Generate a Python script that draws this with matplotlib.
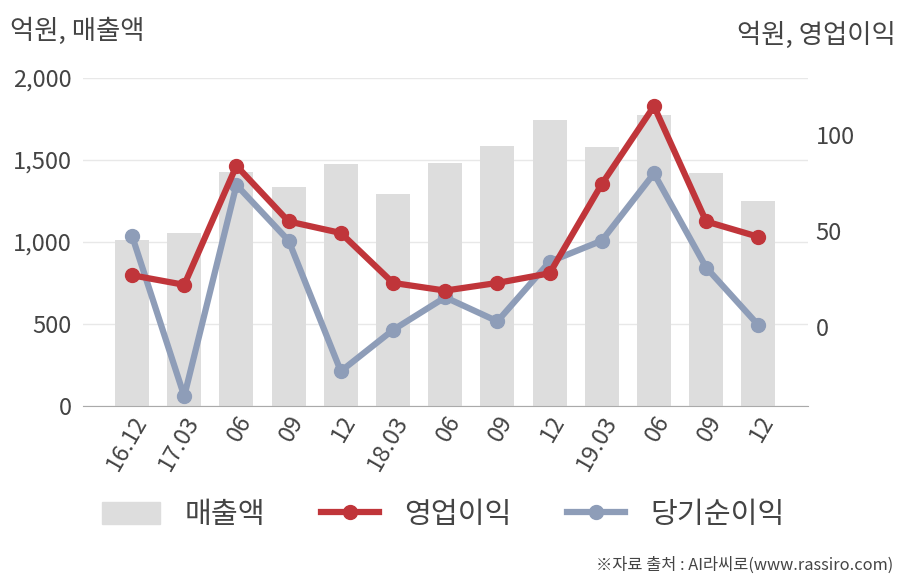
import numpy as np
import matplotlib
matplotlib.use("Agg")
import matplotlib.pyplot as plt
from matplotlib.lines import Line2D
from matplotlib.patches import Patch

plt.rcParams['font.family'] = ['Noto Sans CJK KR', 'DejaVu Sans']

quarters = ['16.12', '17.03', '06', '09', '12', '18.03', '06', '09', '12',
            '19.03', '06', '09', '12']
sales = [1015, 1055, 1427, 1335, 1476, 1293, 1482, 1585, 1744, 1579, 1774, 1421, 1250]
op_profit = [27, 22, 84, 55, 49, 23, 19, 23, 28, 74.5, 115, 55, 47]
net_income = [47.5, -36, 74, 45, -23, -1.5, 15.5, 3, 34, 45, 80, 31, 1]

red = '#C0353A'
blue = '#8E9DB8'
bar_c = '#DDDDDD'
txt = '#444444'

fig = plt.figure(figsize=(9.08, 5.8), dpi=100)
ax = fig.add_axes([0.0914, 0.30, 0.799, 0.5655])
x = np.arange(len(quarters))

ax.bar(x, sales, width=0.65, color=bar_c, zorder=2)
ax.set_ylim(0, 2000)
ax.set_xlim(-0.94, 12.96)
ax.set_yticks([0, 500, 1000, 1500, 2000])
ax.set_yticklabels(['0', '500', '1,000', '1,500', '2,000'])
ax.grid(axis='y', color='#E8E8E8', linewidth=1, zorder=0)
ax.set_axisbelow(True)
for s in ['top', 'right', 'left']:
    ax.spines[s].set_visible(False)
ax.spines['bottom'].set_color('#AAAAAA')
ax.tick_params(axis='y', length=0, labelsize=17, colors=txt, pad=8)
ax.tick_params(axis='x', length=0, labelsize=17, colors=txt, pad=4)
ax.set_xticks(x)
ax.set_xticklabels(quarters, rotation=60, ha='right', rotation_mode='anchor')

ax2 = ax.twinx()
ax2.set_ylim(-41.1, 129.7)
ax2.set_yticks([0, 50, 100])
for s in ['top', 'right', 'left', 'bottom']:
    ax2.spines[s].set_visible(False)
ax2.tick_params(axis='y', length=0, labelsize=17, colors=txt, pad=5)
ax2.plot(x, net_income, color=blue, linewidth=4.5, marker='o', markersize=10, zorder=3)
ax2.plot(x, op_profit, color=red, linewidth=4.5, marker='o', markersize=10, zorder=4)

fig.text(0.011, 0.946, '억원, 매출액', fontsize=19, color=txt, va='center')
fig.text(0.986, 0.940, '억원, 영업이익', fontsize=19, color=txt, va='center', ha='right')

handles = [Patch(color=bar_c),
           Line2D([], [], color=red, linewidth=4.5, marker='o', markersize=10),
           Line2D([], [], color=blue, linewidth=4.5, marker='o', markersize=10)]
fig.legend(handles, ['매출액', '영업이익', '당기순이익'], loc='center',
           bbox_to_anchor=(0.488, 0.112), ncol=3, frameon=False, fontsize=21,
           handlelength=2.0, handleheight=0.8, columnspacing=1.9, handletextpad=0.85,
           labelcolor=txt)

fig.text(0.984, 0.025, '※자료 출처 : AI라씨로(www.rassiro.com)', fontsize=11.8,
         color=txt, ha='right', va='center')

fig.savefig('out.png', dpi=100)
